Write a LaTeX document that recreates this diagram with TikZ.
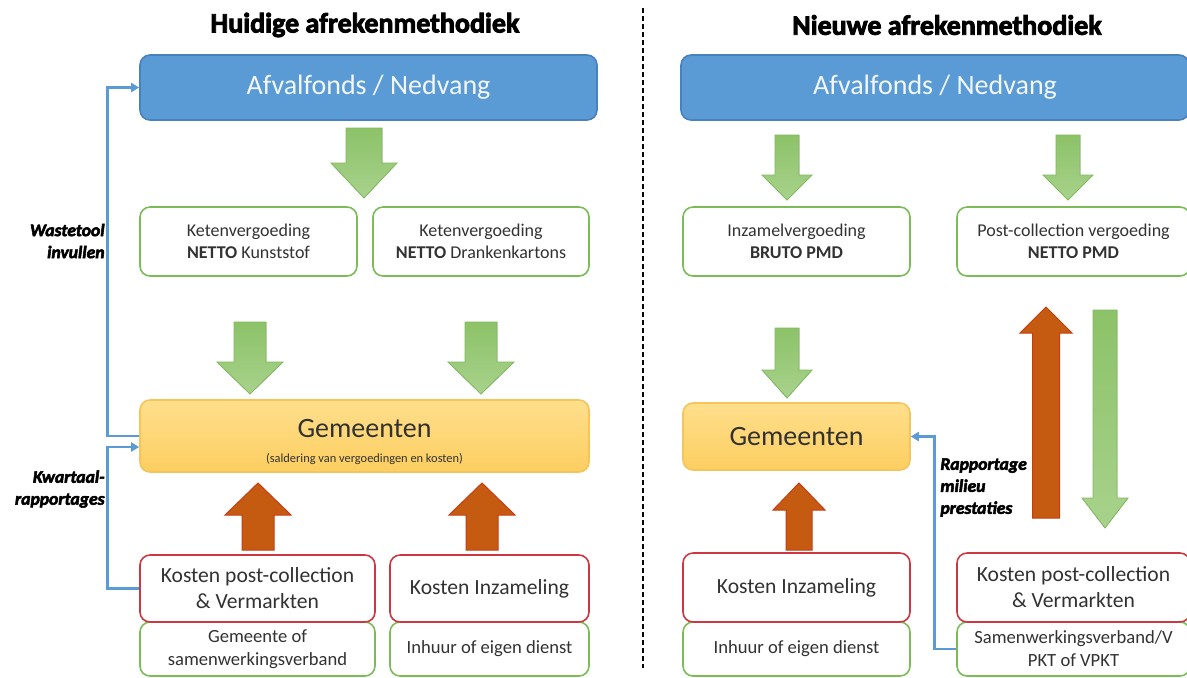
\documentclass[tikz,border=0pt]{standalone}
\usepackage{fontspec}
\setmainfont{Carlito}
\newfontfamily\heavy[FakeBold=3]{Carlito}
\usetikzlibrary{arrows.meta,calc}
\definecolor{afvblue}{RGB}{91,155,213}
\definecolor{afvblueD}{RGB}{72,130,190}
\definecolor{linkblue}{RGB}{91,155,213}
\definecolor{boxgreen}{RGB}{124,188,88}
\definecolor{boxred}{RGB}{205,55,65}
\definecolor{gemtop}{RGB}{255,223,140}
\definecolor{gembot}{RGB}{252,206,96}
\definecolor{gemline}{RGB}{245,196,90}
\definecolor{arrgreen}{RGB}{140,194,104}
\definecolor{arrgreenL}{RGB}{168,210,140}
\definecolor{arrgreenD}{RGB}{130,186,96}
\definecolor{arrorange}{RGB}{197,90,17}
\definecolor{arrorangeD}{RGB}{200,60,20}
\definecolor{txt}{RGB}{50,50,50}
\newcommand{\blockarr}[7]{%
  \filldraw[#7] (#1-#5,#2) -- (#1+#5,#2) -- (#1+#5,#3) -- (#1+#6,#3) -- (#1,#4) -- (#1-#6,#3) -- (#1-#5,#3) -- cycle;}
\tikzset{
  basebox/.style={rounded corners=5pt, inner sep=0pt, align=center, text=txt, line width=0.8pt},
  bluebox/.style={basebox, fill=afvblue, draw=afvblueD, text=white!92!afvblue, font=\fontsize{14}{16}\selectfont},
  greenbox/.style={basebox, draw=boxgreen, fill=white, font=\fontsize{9}{11}\selectfont},
  redbox/.style={basebox, draw=boxred, fill=white, font=\fontsize{10.8}{13}\selectfont},
  lowbox/.style={basebox, draw=boxgreen, fill=white, font=\fontsize{9.3}{11.5}\selectfont},
  gembox/.style={basebox, top color=gemtop, bottom color=gembot, draw=gemline},
  garr/.style={top color=arrgreen, bottom color=arrgreenL, draw=arrgreenD, line width=0.4pt},
  oarr/.style={fill=arrorange, draw=arrorangeD, line width=0.5pt},
  link/.style={draw=linkblue, line width=1.4pt, -{Triangle[length=4pt,width=4.5pt]}},
  title/.style={font=\heavy\bfseries\fontsize{14}{16}\selectfont, text=black, inner sep=0pt},
  side/.style={font=\heavy\bfseries\itshape\fontsize{8.8}{11}\selectfont, text=black, inner sep=0pt},
}
\begin{document}
\begin{tikzpicture}[x=0.5pt,y=-0.5pt]
\useasboundingbox[fill=white] (0,0) rectangle (1187,677);

% titles
\node[title] (t1) at (365,25) {Huidige afrekenmethodiek};
\node[title] (t2) at (947,25) {Nieuwe afrekenmethodiek};
\draw[line width=1pt, dash pattern=on 2.5pt off 1.5pt] (643,8) -- (643,668);

% ---------- left ----------
\node[bluebox, minimum width=228.5pt, minimum height=32.5pt] (afvL) at (368.5,87.5) {Afvalfonds / Nedvang};
\blockarr{364}{128}{163}{198}{18}{33}{garr}
\node[greenbox, minimum width=108.5pt, minimum height=34.5pt] (k1) at (248.5,241.5) {Ketenvergoeding\\\textbf{NETTO} Kunststof};
\node[greenbox, minimum width=108pt, minimum height=34.5pt] (k2) at (481,241.5) {Ketenvergoeding\\\textbf{NETTO} Drankenkartons};
\blockarr{250}{322}{362}{394}{16}{33}{garr}
\blockarr{481}{322}{362}{394}{16}{33}{garr}
\node[gembox, minimum width=224.5pt, minimum height=36pt] (gemL) at (364.5,436) {};
\node[inner sep=0pt, align=center, text=txt, font=\fontsize{6.2}{12.8}\selectfont] (gemLtxt) at (364.5,442) {{\fontsize{14}{16}\selectfont Gemeenten}\\(saldering van vergoedingen en kosten)};
\blockarr{258}{550}{515}{483}{16}{33}{oarr}
\blockarr{482}{550}{515}{483}{16}{33}{oarr}
\node[lowbox, minimum width=117.5pt, minimum height=27pt] (gL1) at (257.5,649) {Gemeente of\\samenwerkingsverband};
\node[lowbox, minimum width=99.5pt, minimum height=27pt] (gL2) at (489.5,649) {Inhuur of eigen dienst};
\node[redbox, minimum width=117.5pt, minimum height=33.5pt] (rL1) at (257.5,588.5) {Kosten post-collection\\\& Vermarkten};
\node[redbox, minimum width=99.5pt, minimum height=33.5pt] (rL2) at (489.5,588.5) {Kosten Inzameling};

\draw[link] (gemL.west) -- ++(-32,0) |- (afvL.west);
\draw[link] (rL1.west) -- ++(-32,0) |- ($(gemL.west)+(0,11)$);
\node[side, align=right, anchor=east] (lab1) at (105,241) {Wastetool\\invullen};
\node[side, align=right, anchor=east] (lab2) at (105,489) {Kwartaal-\\rapportages};

% ---------- right ----------
\node[bluebox, minimum width=254pt, minimum height=32.5pt] (afvR) at (935,87.5) {Afvalfonds / Nedvang};
\blockarr{787}{135}{175}{200}{12}{25}{garr}
\blockarr{1068}{135}{175}{200}{12}{25}{garr}
\node[greenbox, minimum width=113.5pt, minimum height=34.5pt] (inz) at (796.5,241.5) {Inzamelvergoeding\\\textbf{BRUTO PMD}};
\node[greenbox, minimum width=116.5pt, minimum height=34.5pt] (pc) at (1073.5,241.5) {Post-collection vergoeding\\\textbf{NETTO PMD}};
\blockarr{787}{328}{370}{398}{12}{25}{garr}
\node[gembox, minimum width=113.5pt, minimum height=33.5pt, font=\fontsize{14}{16}\selectfont] (gemR) at (796.5,436.5) {Gemeenten};
\blockarr{799}{550}{510}{483}{13}{26}{oarr}
\blockarr{1046}{518}{333}{307}{13.5}{26}{oarr}
\blockarr{1105}{310}{498}{528}{12}{23}{garr}
\node[lowbox, minimum width=113.5pt, minimum height=27pt] (gR1) at (796.5,649) {Inhuur of eigen dienst};
\node[lowbox, minimum width=116.5pt, minimum height=27pt] (gR2) at (1073.5,649) {Samenwerkingsverband/V\\PKT of VPKT};
\node[redbox, minimum width=113.5pt, minimum height=34.5pt] (rR1) at (796.5,587.5) {Kosten Inzameling};
\node[redbox, minimum width=116.5pt, minimum height=34.5pt] (rR2) at (1073.5,587.5) {Kosten post-collection\\\& Vermarkten};
\draw[link] (gR2.west) -- ++(-22,0) |- (gemR.east);
\node[side, align=left, anchor=north west] (lab3) at (940,458) {Rapportage\\milieu\\prestaties};
\end{tikzpicture}
\end{document}
